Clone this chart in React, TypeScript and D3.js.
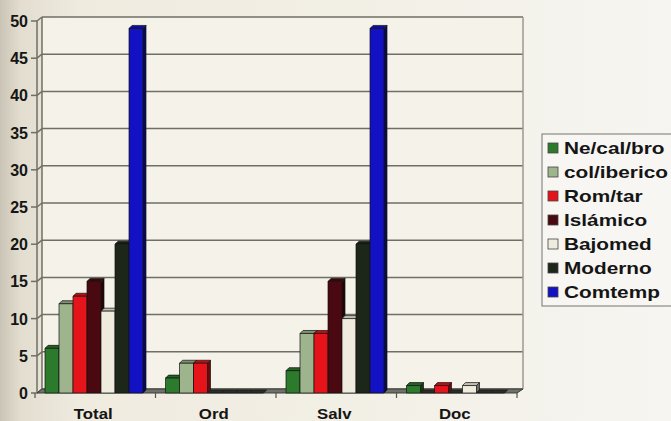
import React from "react";
import * as d3 from "d3";

const categories = ["Total", "Ord", "Salv", "Doc"];
const series = ["Ne/cal/bro", "col/iberico", "Rom/tar", "Islámico", "Bajomed", "Moderno", "Comtemp"];
const values: number[][] = [
  // one row per category, one value per series
  [6, 12, 13, 15, 11, 20, 49],
  [2, 4, 4, 0, 0, 0, 0],
  [3, 8, 8, 15, 10, 20, 49],
  [1, 0, 1, 0, 1, 0, 0],
];
const yTicks = [0, 5, 10, 15, 20, 25, 30, 35, 40, 45, 50];

const colors = ["#2c7a2c", "#9db48c", "#e5141b", "#4a0810", "#efecde", "#1c2619", "#1212c4"];

const W = 671;
const H = 421;
const DX = 5; // depth offset of the back wall
const DY = -4;
const BD = 3; // bar depth

export default function App() {
  const y = d3.scaleLinear().domain([0, 50]).range([393, 21]);
  const x = d3.scaleBand<string>().domain(categories).range([35, 517]).paddingInner(0).paddingOuter(0);
  const xs = d3.scaleBand<string>().domain(series).range([10, 108]);
  const left = 37;
  const right = 517;

  const bars: React.ReactNode[] = [];
  categories.forEach((c, i) => {
    series.forEach((s, j) => {
      const v = values[i][j];
      const x0 = (x(c) as number) + (xs(s) as number);
      const bw = xs.bandwidth();
      const yv = y(v);
      const y0 = y(0);
      const col = d3.color(colors[j])!;
      if (v === 0) {
        bars.push(
          <polygon
            key={`${i}-${j}`}
            points={`${x0},${y0} ${x0 + BD},${y0 - BD} ${x0 + bw + BD},${y0 - BD} ${x0 + bw},${y0}`}
            fill="#2a2d2a"
            stroke="#1a1a1a"
            strokeWidth={0.8}
          />
        );
        return;
      }
      bars.push(
        <g key={`${i}-${j}`} stroke="#111" strokeWidth={0.7} strokeLinejoin="round">
          <polygon
            points={`${x0 + bw},${yv} ${x0 + bw + BD},${yv - BD} ${x0 + bw + BD},${y0 - BD} ${x0 + bw},${y0}`}
            fill={col.darker(2.2).toString()}
          />
          <polygon
            points={`${x0},${yv} ${x0 + BD},${yv - BD} ${x0 + bw + BD},${yv - BD} ${x0 + bw},${yv}`}
            fill={col.darker(0.6).toString()}
          />
          <rect x={x0} y={yv} width={bw} height={y0 - yv} fill={colors[j]} />
        </g>
      );
    });
  });

  const font = "'Liberation Sans', Arial, sans-serif";

  return (
    <svg
      width={W}
      height={H}
      viewBox={`0 0 ${W} ${H}`}
      style={{ position: "absolute", left: 0, top: 0, display: "block" }}
    >
      <defs>
        <linearGradient id="bg" x1="0" x2="1" y1="0" y2="0">
          <stop offset="0" stopColor="#c9c4b5" />
          <stop offset="0.03" stopColor="#e2ddcf" />
          <stop offset="0.12" stopColor="#efebdf" />
          <stop offset="0.6" stopColor="#f3f0e7" />
          <stop offset="1" stopColor="#f6f5f1" />
        </linearGradient>
      </defs>
      <rect x={0} y={0} width={W} height={H} fill="url(#bg)" />

      {/* back wall and side wall */}
      <rect x={left + DX} y={y(50) + DY} width={right - left + 1} height={y(0) - y(50)} fill="#f5f2ea" />

      {/* gridlines */}
      <g stroke="#6f6f65" strokeWidth={1.5} fill="none">
        {yTicks.map((t) => (
          <g key={t}>
            <line x1={left + DX} x2={right + DX + 1} y1={y(t) + DY} y2={y(t) + DY} />
            <line x1={left} x2={left + DX} y1={y(t)} y2={y(t) + DY} />
            <line x1={left - 6} x2={left} y1={y(t)} y2={y(t)} />
          </g>
        ))}
        <line x1={left} x2={left} y1={y(50)} y2={y(0)} />
        <line x1={left + DX} x2={left + DX} y1={y(50) + DY} y2={y(0) + DY} />
        <line x1={right + DX + 1} x2={right + DX + 1} y1={y(50) + DY} y2={y(0) + DY} stroke="#9a9a90" />
      </g>

      {/* floor */}
      <polygon
        points={`${left},${y(0)} ${left + DX},${y(0) + DY} ${right + DX + 1},${y(0) + DY} ${right},${y(0)}`}
        fill="#6e706a"
        stroke="#3a3c38"
        strokeWidth={1}
      />
      <g stroke="#55554e" strokeWidth={1.2}>
        {[...categories.map((c) => x(c) as number), 517].map((t, k) => (
          <line key={k} x1={t} x2={t} y1={y(0)} y2={y(0) + 5} />
        ))}
      </g>

      {bars}

      {/* y axis labels */}
      <g fontFamily={font} fontWeight="bold" fontSize={16} fill="#151515" textAnchor="end">
        {yTicks.map((t) => (
          <text key={t} x={28} y={y(t) + 6}>
            {t}
          </text>
        ))}
      </g>

      {/* category labels */}
      <g fontFamily={font} fontWeight="bold" fontSize={15} fill="#151515" textAnchor="middle">
        {categories.map((c) => (
          <text
            key={c}
            transform={`translate(${(x(c) as number) + x.bandwidth() / 2 - 2},419) scale(1.12,1)`}
          >
            {c}
          </text>
        ))}
      </g>

      {/* legend */}
      <rect x={542} y={134} width={140} height={172} fill="#f7f6f2" stroke="#8a8a84" strokeWidth={1.2} />
      <g fontFamily={font} fontWeight="bold" fontSize={16} fill="#151515">
        {series.map((s, j) => (
          <g key={s} transform={`translate(548,${148 + j * 24})`}>
            <rect x={0} y={-5} width={10} height={10} fill={colors[j]} stroke="#444" strokeWidth={0.8} />
            <text transform="translate(16,6) scale(1.3,1)">{s}</text>
          </g>
        ))}
      </g>
    </svg>
  );
}
